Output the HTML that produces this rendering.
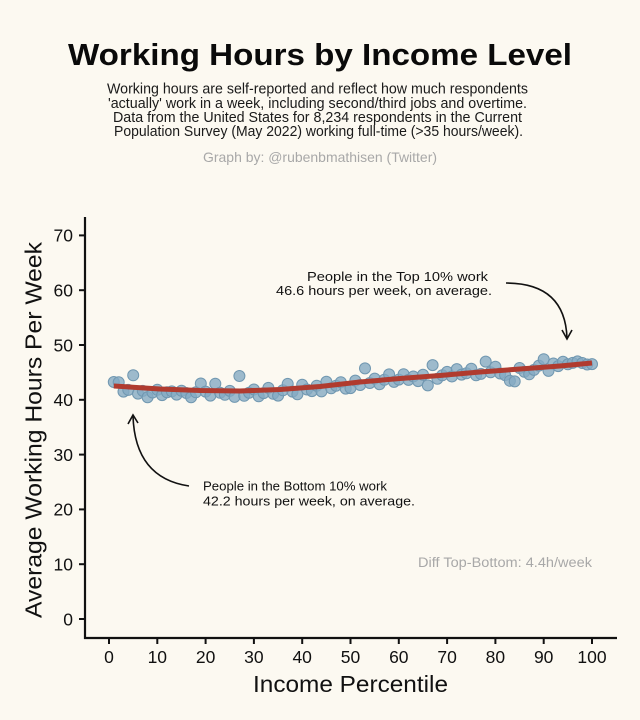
<!DOCTYPE html>
<html>
<head>
<meta charset="utf-8">
<style>
html,body{margin:0;padding:0;background:#FCF9F1;}
svg{display:block;}
text{font-family:"Liberation Sans",Arial,sans-serif;}
</style>
</head>
<body>
<svg width="640" height="720" viewBox="0 0 640 720" xmlns="http://www.w3.org/2000/svg">
<rect width="640" height="720" fill="#FCF9F1"/>

<!-- Title -->
<text x="68" y="65" font-size="31" font-weight="bold" fill="#0a0a0a" textLength="504" lengthAdjust="spacingAndGlyphs">Working Hours by Income Level</text>

<!-- Subtitle -->
<g font-size="14.5" fill="#1a1a1a">
<text x="107" y="93.5" textLength="421" lengthAdjust="spacingAndGlyphs">Working hours are self-reported and reflect how much respondents</text>
<text x="108" y="108" textLength="419" lengthAdjust="spacingAndGlyphs">'actually' work in a week, including second/third jobs and overtime.</text>
<text x="113" y="122" textLength="409" lengthAdjust="spacingAndGlyphs">Data from the United States for 8,234 respondents in the Current</text>
<text x="114" y="136" textLength="409" lengthAdjust="spacingAndGlyphs">Population Survey (May 2022) working full-time (&gt;35 hours/week).</text>
</g>
<text x="203" y="162" font-size="14" fill="#a8a8a8" textLength="234" lengthAdjust="spacingAndGlyphs">Graph by: @rubenbmathisen (Twitter)</text>

<!-- Axes -->
<g stroke="#111" stroke-width="2.2" fill="none">
<line x1="85" y1="217" x2="85" y2="639"/>
<line x1="84" y1="638" x2="617" y2="638"/>
</g>
<!-- Y ticks -->
<g stroke="#111" stroke-width="2">
<line x1="79" y1="235.4" x2="85" y2="235.4"/>
<line x1="79" y1="290.2" x2="85" y2="290.2"/>
<line x1="79" y1="345" x2="85" y2="345"/>
<line x1="79" y1="399.8" x2="85" y2="399.8"/>
<line x1="79" y1="454.6" x2="85" y2="454.6"/>
<line x1="79" y1="509.4" x2="85" y2="509.4"/>
<line x1="79" y1="564.2" x2="85" y2="564.2"/>
<line x1="79" y1="619" x2="85" y2="619"/>
</g>
<g font-size="17.5" fill="#111" text-anchor="end">
<text x="73" y="241.7">70</text>
<text x="73" y="296.5">60</text>
<text x="73" y="351.3">50</text>
<text x="73" y="406.1">40</text>
<text x="73" y="460.9">30</text>
<text x="73" y="515.7">20</text>
<text x="73" y="570.5">10</text>
<text x="73" y="625.3">0</text>
</g>
<!-- X ticks -->
<g stroke="#111" stroke-width="2">
<line x1="109" y1="638" x2="109" y2="644"/>
<line x1="157.3" y1="638" x2="157.3" y2="644"/>
<line x1="205.6" y1="638" x2="205.6" y2="644"/>
<line x1="253.9" y1="638" x2="253.9" y2="644"/>
<line x1="302.2" y1="638" x2="302.2" y2="644"/>
<line x1="350.5" y1="638" x2="350.5" y2="644"/>
<line x1="398.8" y1="638" x2="398.8" y2="644"/>
<line x1="447.1" y1="638" x2="447.1" y2="644"/>
<line x1="495.4" y1="638" x2="495.4" y2="644"/>
<line x1="543.7" y1="638" x2="543.7" y2="644"/>
<line x1="592" y1="638" x2="592" y2="644"/>
</g>
<g font-size="17.5" fill="#111" text-anchor="middle">
<text x="109" y="663">0</text>
<text x="157.3" y="663">10</text>
<text x="205.6" y="663">20</text>
<text x="253.9" y="663">30</text>
<text x="302.2" y="663">40</text>
<text x="350.5" y="663">50</text>
<text x="398.8" y="663">60</text>
<text x="447.1" y="663">70</text>
<text x="495.4" y="663">80</text>
<text x="543.7" y="663">90</text>
<text x="592" y="663">100</text>
</g>

<!-- Axis titles -->
<text x="350.5" y="692" font-size="23" fill="#111" text-anchor="middle" textLength="195" lengthAdjust="spacingAndGlyphs">Income Percentile</text>
<text transform="translate(41.7,618) rotate(-90)" x="0" y="0" font-size="23" fill="#111" textLength="376" lengthAdjust="spacingAndGlyphs">Average Working Hours Per Week</text>

<!-- Points -->
<g fill="#85AAC3" fill-opacity="0.8" stroke="#7097B0" stroke-width="1">
<circle cx="113.8" cy="382" r="5.5"/>
<circle cx="118.7" cy="382.3" r="5.5"/>
<circle cx="123.5" cy="391.6" r="5.5"/>
<circle cx="128.3" cy="389.9" r="5.5"/>
<circle cx="133.2" cy="375.3" r="5.5"/>
<circle cx="138" cy="393.6" r="5.5"/>
<circle cx="142.8" cy="390.9" r="5.5"/>
<circle cx="147.6" cy="397.2" r="5.5"/>
<circle cx="152.5" cy="392.5" r="5.5"/>
<circle cx="157.3" cy="389.8" r="5.5"/>
<circle cx="162.1" cy="395.1" r="5.5"/>
<circle cx="167" cy="392.3" r="5.5"/>
<circle cx="171.8" cy="391.4" r="5.5"/>
<circle cx="176.6" cy="394.6" r="5.5"/>
<circle cx="181.5" cy="390.8" r="5.5"/>
<circle cx="186.3" cy="393" r="5.5"/>
<circle cx="191.1" cy="397.2" r="5.5"/>
<circle cx="195.9" cy="392.3" r="5.5"/>
<circle cx="200.8" cy="383.5" r="5.5"/>
<circle cx="205.6" cy="391.6" r="5.5"/>
<circle cx="210.4" cy="395.6" r="5.5"/>
<circle cx="215.3" cy="383.7" r="5.5"/>
<circle cx="220.1" cy="392.8" r="5.5"/>
<circle cx="224.9" cy="394.8" r="5.5"/>
<circle cx="229.8" cy="390.9" r="5.5"/>
<circle cx="234.6" cy="396.9" r="5.5"/>
<circle cx="239.4" cy="376" r="5.5"/>
<circle cx="244.2" cy="395.8" r="5.5"/>
<circle cx="249.1" cy="392.7" r="5.5"/>
<circle cx="253.9" cy="389.5" r="5.5"/>
<circle cx="258.7" cy="396.3" r="5.5"/>
<circle cx="263.6" cy="393.1" r="5.5"/>
<circle cx="268.4" cy="387.9" r="5.5"/>
<circle cx="273.2" cy="393.7" r="5.5"/>
<circle cx="278.1" cy="395.6" r="5.5"/>
<circle cx="282.9" cy="390.3" r="5.5"/>
<circle cx="287.7" cy="383.9" r="5.5"/>
<circle cx="292.5" cy="391.6" r="5.5"/>
<circle cx="297.4" cy="394.2" r="5.5"/>
<circle cx="302.2" cy="384.8" r="5.5"/>
<circle cx="307" cy="389.5" r="5.5"/>
<circle cx="311.9" cy="391.1" r="5.5"/>
<circle cx="316.7" cy="385.7" r="5.5"/>
<circle cx="321.5" cy="391.4" r="5.5"/>
<circle cx="326.4" cy="381.8" r="5.5"/>
<circle cx="331.2" cy="388.3" r="5.5"/>
<circle cx="336" cy="385.7" r="5.5"/>
<circle cx="340.8" cy="382.2" r="5.5"/>
<circle cx="345.7" cy="388.6" r="5.5"/>
<circle cx="350.5" cy="388.1" r="5.5"/>
<circle cx="355.3" cy="380.6" r="5.5"/>
<circle cx="360.2" cy="385" r="5.5"/>
<circle cx="365" cy="368.4" r="5.5"/>
<circle cx="369.8" cy="383" r="5.5"/>
<circle cx="374.7" cy="378.6" r="5.5"/>
<circle cx="379.5" cy="384.2" r="5.5"/>
<circle cx="384.3" cy="379.8" r="5.5"/>
<circle cx="389.1" cy="374.4" r="5.5"/>
<circle cx="394" cy="381.9" r="5.5"/>
<circle cx="398.8" cy="379.6" r="5.5"/>
<circle cx="403.6" cy="374.2" r="5.5"/>
<circle cx="408.5" cy="379.9" r="5.5"/>
<circle cx="413.3" cy="376.5" r="5.5"/>
<circle cx="418.1" cy="381.1" r="5.5"/>
<circle cx="423" cy="374.8" r="5.5"/>
<circle cx="427.8" cy="385.4" r="5.5"/>
<circle cx="432.6" cy="365.1" r="5.5"/>
<circle cx="437.4" cy="378.7" r="5.5"/>
<circle cx="442.3" cy="375.3" r="5.5"/>
<circle cx="447.1" cy="371.9" r="5.5"/>
<circle cx="451.9" cy="376.5" r="5.5"/>
<circle cx="456.8" cy="369.1" r="5.5"/>
<circle cx="461.6" cy="374.6" r="5.5"/>
<circle cx="466.4" cy="373.2" r="5.5"/>
<circle cx="471.3" cy="368.8" r="5.5"/>
<circle cx="476.1" cy="375.3" r="5.5"/>
<circle cx="480.9" cy="373.9" r="5.5"/>
<circle cx="485.7" cy="361.6" r="5.5"/>
<circle cx="490.6" cy="372.2" r="5.5"/>
<circle cx="495.4" cy="366.8" r="5.5"/>
<circle cx="500.2" cy="373.5" r="5.5"/>
<circle cx="505.1" cy="375.1" r="5.5"/>
<circle cx="509.9" cy="380.8" r="5.5"/>
<circle cx="514.7" cy="381.4" r="5.5"/>
<circle cx="519.6" cy="368" r="5.5"/>
<circle cx="524.4" cy="371.7" r="5.5"/>
<circle cx="529.2" cy="374.3" r="5.5"/>
<circle cx="534" cy="369.9" r="5.5"/>
<circle cx="538.9" cy="365.6" r="5.5"/>
<circle cx="543.7" cy="359.2" r="5.5"/>
<circle cx="548.5" cy="370.9" r="5.5"/>
<circle cx="553.4" cy="363.5" r="5.5"/>
<circle cx="558.2" cy="366.1" r="5.5"/>
<circle cx="563" cy="361.8" r="5.5"/>
<circle cx="567.9" cy="364.3" r="5.5"/>
<circle cx="572.7" cy="362.9" r="5.5"/>
<circle cx="577.5" cy="361.4" r="5.5"/>
<circle cx="582.3" cy="363" r="5.5"/>
<circle cx="587.2" cy="364.5" r="5.5"/>
<circle cx="592" cy="364.1" r="5.5"/>
</g>

<!-- Trend line -->
<path d="M113.8,386 L160,389 L200,390.5 L240,391 L280,389.5 L320,386.5 L360,382 L400,378.5 L440,375.5 L480,372 L520,369 L560,366 L592,363" fill="none" stroke="#B03B2F" stroke-width="5" stroke-linejoin="round"/>

<!-- Top annotation -->
<g font-size="13" fill="#111">
<text x="307" y="281" textLength="181" lengthAdjust="spacingAndGlyphs">People in the Top 10% work</text>
<text x="276" y="295" textLength="216" lengthAdjust="spacingAndGlyphs">46.6 hours per week, on average.</text>
</g>
<path d="M506,283 Q565,283 567,338" fill="none" stroke="#111" stroke-width="1.6"/>
<path d="M562,330 L567,339 L572,330" fill="none" stroke="#111" stroke-width="1.6"/>

<!-- Bottom annotation -->
<g font-size="13" fill="#111">
<text x="203" y="490.5" textLength="184" lengthAdjust="spacingAndGlyphs">People in the Bottom 10% work</text>
<text x="203" y="505.5" textLength="212" lengthAdjust="spacingAndGlyphs">42.2 hours per week, on average.</text>
</g>
<path d="M189,486 Q135,478 133,416" fill="none" stroke="#111" stroke-width="1.6"/>
<path d="M128,424 L133,415 L138,423" fill="none" stroke="#111" stroke-width="1.6"/>

<!-- Diff text -->
<text x="418" y="567" font-size="13.5" fill="#a8a8a8" textLength="174" lengthAdjust="spacingAndGlyphs">Diff Top-Bottom: 4.4h/week</text>
</svg>
</body>
</html>
